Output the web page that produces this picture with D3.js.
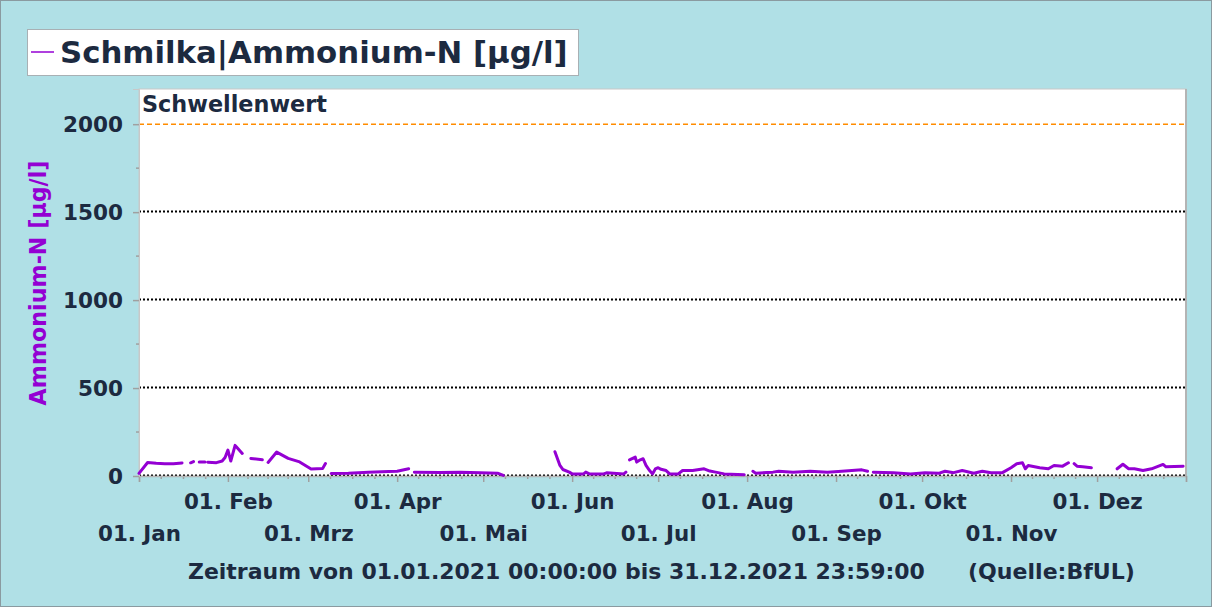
<!DOCTYPE html>
<html><head><meta charset="utf-8">
<script src="https://cdn.jsdelivr.net/npm/d3@7"></script>
<style>
html,body{margin:0;padding:0;background:#fff;}
text{font-family:"DejaVu Sans",Verdana,sans-serif;font-weight:bold;}
</style></head>
<body>
<svg id="chart" width="1212" height="607"></svg>
<script>
// ---- data ----
const seriesTitle = "Schmilka|Ammonium-N [µg/l]";
const yAxisTitle = "Ammonium-N [µg/l]";
const thresholdLabel = "Schwellenwert";
const thresholdValue = 2000;
const footerText = "Zeitraum von 01.01.2021 00:00:00 bis 31.12.2021 23:59:00";
const sourceText = "(Quelle:BfUL)";
const monthLabels = ["Jan","Feb","Mrz","Apr","Mai","Jun","Jul","Aug","Sep","Okt","Nov","Dez"];
const yTicks = [0,500,1000,1500,2000];
const yMinorTicks = [250,750,1250,1750];
const yMax = 2200;

const dates = [
"2021-01-01","2021-01-04","2021-01-07","2021-01-10","2021-01-13","2021-01-16","2021-01-17",
"2021-01-19","2021-01-20","2021-01-21",
"2021-01-22","2021-01-24","2021-01-24T12",
"2021-01-25","2021-01-28","2021-01-30","2021-01-31","2021-02-01","2021-02-02","2021-02-03T12","2021-02-04","2021-02-06","2021-02-08",
"2021-02-09","2021-02-13","2021-02-14",
"2021-02-15","2021-02-18","2021-02-22","2021-02-26","2021-03-01","2021-03-02","2021-03-06","2021-03-07","2021-03-08",
"2021-03-09","2021-03-15","2021-03-22","2021-03-29","2021-04-01","2021-04-05","2021-04-06",
"2021-04-07","2021-04-16","2021-04-23","2021-04-30","2021-05-06","2021-05-08","2021-05-09",
"2021-05-26","2021-05-27T18","2021-05-28T18","2021-05-31","2021-06-01","2021-06-05","2021-06-05T18","2021-06-07","2021-06-12","2021-06-13","2021-06-19","2021-06-19T18","2021-06-20",
"2021-06-21","2021-06-23","2021-06-23T12","2021-06-24T18","2021-06-25T18","2021-06-26T18","2021-06-28","2021-06-29","2021-06-30","2021-07-01","2021-07-02","2021-07-03T18","2021-07-05","2021-07-08","2021-07-09T12","2021-07-13","2021-07-17","2021-07-19","2021-07-21","2021-07-24","2021-07-31","2021-08-01",
"2021-08-03","2021-08-04","2021-08-10","2021-08-12","2021-08-17","2021-08-23","2021-08-29","2021-09-03","2021-09-10","2021-09-12","2021-09-13",
"2021-09-14","2021-09-21","2021-09-27","2021-10-02","2021-10-07","2021-10-09","2021-10-12","2021-10-15","2021-10-19","2021-10-22","2021-10-25","2021-10-29","2021-11-01","2021-11-03","2021-11-05","2021-11-06","2021-11-07","2021-11-11","2021-11-14","2021-11-16","2021-11-19","2021-11-21","2021-11-22",
"2021-11-23","2021-11-24","2021-11-26","2021-11-29","2021-12-03",
"2021-12-08","2021-12-10","2021-12-12","2021-12-14","2021-12-17","2021-12-20","2021-12-24","2021-12-25","2021-12-31"
];
const values = [
15,77,72,70,70,74,null,
75,82,null,
80,80,null,
78,76,85,105,147,85,174,165,128,null,
100,92,null,
77,136,100,80,50,40,42,71,null,
14,15,22,25,27,41,null,
22,20,22,18,16,3,null,
138,60,37,22,12,12,22,12,12,18,12,22,null,
92,107,79,92,98,60,31,12,40,47,38,31,12,12,31,31,41,28,22,12,7,null,
27,16,22,27,22,27,22,27,35,27,null,
22,19,12,19,16,27,19,31,16,27,19,19,47,70,75,41,60,47,41,60,56,75,null,
70,56,52,47,null,
41,67,41,41,31,41,66,52,55
];

// ---- layout ----
const W = 1212, H = 607;
const plot = {left:139, right:1186, top:89, bottom:476};
const textColor = "#1c2a40";
const lineColor = "#9400d3";

// scale a text's font-size so its rendered width matches a target width
function fitSize(sel, target){
  const n = sel.node();
  const len = n.getComputedTextLength();
  const fs = +sel.attr("font-size");
  return fs * target / len;
}

const pDay = d3.utcParse("%Y-%m-%d"), pHour = d3.utcParse("%Y-%m-%dT%H");
const parse = s => s.length > 10 ? pHour(s) : pDay(s);
const data = dates.map((d,i) => ({t: parse(d), v: values[i]}));

const svg = d3.select("#chart");
svg.append("rect").attr("x",0.5).attr("y",0.5).attr("width",W-1).attr("height",H-1)
  .attr("fill","#b0e0e6").attr("stroke","#8a9aa0").attr("stroke-width",1);

const x = d3.scaleUtc().domain([new Date(Date.UTC(2021,0,1)), new Date(Date.UTC(2022,0,1))]).range([plot.left, plot.right]);
const y = d3.scaleLinear().domain([0,yMax]).range([plot.bottom, plot.top]);

// plot area
svg.append("rect").attr("x",plot.left).attr("y",plot.top).attr("width",plot.right-plot.left).attr("height",plot.bottom-plot.top)
  .attr("fill","#fff").attr("stroke","#c8c8c8").attr("stroke-width",1);
svg.append("line").attr("x1",plot.right).attr("x2",plot.right).attr("y1",plot.top).attr("y2",plot.bottom)
  .attr("stroke","#b4b4b4").attr("stroke-width",2);

// grid lines
svg.append("g").selectAll("line").data(yTicks.filter(v=>v<thresholdValue)).join("line")
  .attr("x1",plot.left).attr("x2",plot.right)
  .attr("y1",d=>Math.round(y(d))-0.5).attr("y2",d=>Math.round(y(d))-0.5)
  .attr("stroke","#000").attr("stroke-width",2).attr("stroke-dasharray","2,2");

// threshold
svg.append("line").attr("x1",plot.left).attr("x2",plot.right)
  .attr("y1",y(thresholdValue)).attr("y2",y(thresholdValue))
  .attr("stroke","#ff8c00").attr("stroke-width",1.6).attr("stroke-dasharray","5,3");
const thr = svg.append("text").attr("x",plot.left+3).attr("y",plot.top+23).attr("fill",textColor)
  .attr("font-size",18).text(thresholdLabel);
thr.attr("font-size", fitSize(thr,185));

// x axis
const monthStarts = d3.utcMonths(new Date(Date.UTC(2021,0,1)), new Date(Date.UTC(2022,0,2)));
const minorX = [];
for (let i=0;i<12;i++){
  const a = monthStarts[i].getTime(), b = monthStarts[i+1].getTime();
  for (let k=1;k<4;k++) minorX.push(new Date(a + (b-a)*k/4));
}
const gx = svg.append("g").attr("transform",`translate(0,${plot.bottom})`);
gx.selectAll("line.minor").data(minorX).join("line").attr("class","minor")
  .attr("x1",d=>x(d)).attr("x2",d=>x(d)).attr("y1",0).attr("y2",3)
  .attr("stroke","#a0a0a0").attr("stroke-width",1.5);
gx.call(d3.axisBottom(x).tickValues(monthStarts).tickSize(6)
  .tickFormat(d => d.getUTCFullYear()===2021 ? "01. " + monthLabels[d.getUTCMonth()] : ""));
gx.select(".domain").attr("stroke","#b4b4b4").attr("stroke-width",1.5);
gx.selectAll(".tick line").attr("stroke","#a0a0a0").attr("stroke-width",1.5);
const xt = gx.selectAll(".tick text").attr("fill",textColor).attr("font-size",19).attr("font-family",null)
  .attr("dy",null).attr("y",(d)=> d.getUTCMonth()%2===1 ? 33 : 65);
const xfs = fitSize(xt.filter((d,i)=>i===1), 89);
xt.attr("font-size", xfs);

// y axis
const gy = svg.append("g").attr("transform",`translate(${plot.left},0)`);
gy.selectAll("line.minor").data(yMinorTicks).join("line").attr("class","minor")
  .attr("x1",-3).attr("x2",0).attr("y1",d=>y(d)).attr("y2",d=>y(d))
  .attr("stroke","#a0a0a0").attr("stroke-width",1.5);
gy.call(d3.axisLeft(y).tickValues(yTicks).tickSize(6).tickPadding(10).tickFormat(d3.format("d")));
gy.select(".domain").attr("stroke","#c8c8c8").attr("stroke-width",1);
gy.selectAll(".tick line").attr("stroke","#a0a0a0").attr("stroke-width",1.5);
const yt = gy.selectAll(".tick text").attr("fill",textColor).attr("font-size",21).attr("font-family",null).attr("dy","0.36em");
const yfs = fitSize(yt.filter(d=>d===2000), 60);
yt.attr("font-size", yfs);

const ytitle = svg.append("text").attr("transform",`translate(46,283) rotate(-90)`)
  .attr("text-anchor","middle").attr("fill",lineColor).attr("font-size",20).text(yAxisTitle);
ytitle.attr("font-size", fitSize(ytitle,245));

// data line
const line = d3.line().defined(d=>d.v!=null).x(d=>x(d.t)).y(d=>y(d.v));
svg.append("path").datum(data).attr("d",line).attr("fill","none")
  .attr("stroke",lineColor).attr("stroke-width",3).attr("stroke-linejoin","round").attr("stroke-linecap","round");

// legend
svg.append("rect").attr("x",27.5).attr("y",29.5).attr("width",551).attr("height",46)
  .attr("fill","#fff").attr("stroke","#a8b0b4");
svg.append("line").attr("x1",31).attr("x2",54).attr("y1",52).attr("y2",52).attr("stroke",lineColor).attr("stroke-width",1.5);
const title = svg.append("text").attr("x",60).attr("y",63).attr("fill",textColor).attr("font-size",29).text(seriesTitle);
title.attr("font-size", fitSize(title,508));

// footer
const foot = svg.append("text").attr("x",188).attr("y",579).attr("fill",textColor).attr("font-size",19).text(footerText);
foot.attr("font-size", fitSize(foot,737));
const src = svg.append("text").attr("x",968).attr("y",579).attr("fill",textColor).attr("font-size",19).text(sourceText);
src.attr("font-size", fitSize(src,167));
</script>
</body></html>
